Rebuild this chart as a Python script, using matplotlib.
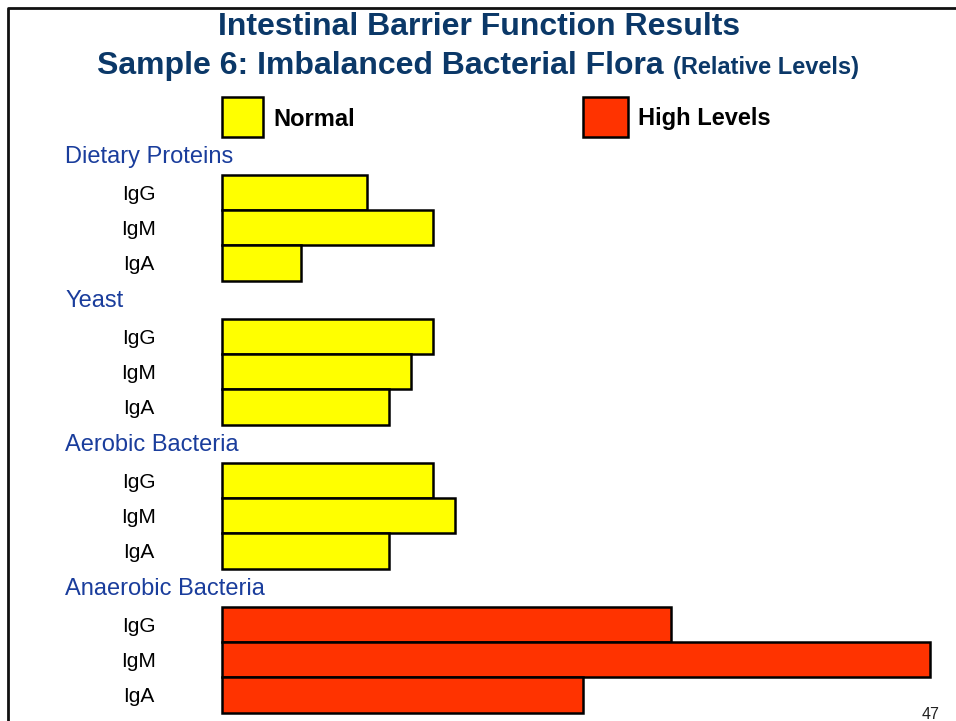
import matplotlib.pyplot as plt
import matplotlib.transforms as mtransforms
from matplotlib.patches import Rectangle
from matplotlib.lines import Line2D

plt.rcParams['font.family'] = ['Liberation Sans', 'DejaVu Sans']

# data
groups = ['Dietary Proteins', 'Yeast', 'Aerobic Bacteria', 'Anaerobic Bacteria']
antibodies = ['IgG', 'IgM', 'IgA']
levels = [
    [6.6, 9.6, 3.6],
    [9.6, 8.6, 7.6],
    [9.6, 10.6, 7.6],
    [20.4, 32.2, 16.4],
]
status = ['Normal', 'Normal', 'Normal', 'High Levels']
colors = {'Normal': '#FFFF00', 'High Levels': '#FF3300'}

W, H = 956, 721
fig = plt.figure(figsize=(W / 100, H / 100), dpi=100)
fig.patch.set_facecolor('white')

def fx(px):
    return px / W

def fy(py):
    return 1 - py / H

stride = 4.09
y_top, y_bot = 175, 712.6
ax = fig.add_axes([fx(222), fy(y_bot), fx(956 - 222), (y_bot - y_top) / H])
ax.set_xlim(0, 734 / 22)
ax.set_ylim(3 * stride + 3, 0)
ax.axis('off')

trans = mtransforms.blended_transform_factory(fig.transFigure, ax.transData)

for g, name in enumerate(groups):
    base = g * stride
    ys = [base + i + 0.5 for i in range(3)]
    ax.barh(ys, levels[g], height=1.0, left=0, color=colors[status[g]],
            edgecolor='black', linewidth=1.8, clip_on=False)
    ax.text(fx(65), base - 0.33, name, transform=trans, color='#1a3d9c',
            fontsize=17, ha='left', va='baseline')
    for i, ab in enumerate(antibodies):
        ax.text(fx(139), ys[i] + 0.21, ab, transform=trans, color='black',
                fontsize=15, ha='center', va='baseline')

# title
title_color = '#0b3868'
fig.text(fx(479), fy(35), 'Intestinal Barrier Function Results', color=title_color,
         fontsize=23, fontweight='bold', ha='center', va='baseline')
t2 = fig.text(fx(97), fy(74), 'Sample 6: Imbalanced Bacterial Flora', color=title_color,
              fontsize=23, fontweight='bold', ha='left', va='baseline')
fig.canvas.draw()
bb = t2.get_window_extent()
fig.text((bb.x1 + 9) / W, fy(74), '(Relative Levels)', color=title_color,
         fontsize=17, fontweight='bold', ha='left', va='baseline')

# legend
for x0, w0, lab in [(222, 41, 'Normal'), (583, 45, 'High Levels')]:
    fig.patches.append(Rectangle((fx(x0), fy(137)), w0 / W, 40 / H,
                                 transform=fig.transFigure, facecolor=colors[lab],
                                 edgecolor='black', linewidth=1.8))
    fig.text(fx(x0 + w0 + 10), fy(125.5), lab, fontsize=17, fontweight='bold',
             color='black', ha='left', va='baseline')

# slide frame
fig.lines.append(Line2D([fx(8), fx(8), 1.0], [0.0, fy(8), fy(8)],
                        transform=fig.transFigure, color='#111111', linewidth=2))

fig.text(fx(940), fy(719), '47', fontsize=11.5, color='#222222', ha='right', va='baseline')

fig.savefig('out.png', dpi=100)
